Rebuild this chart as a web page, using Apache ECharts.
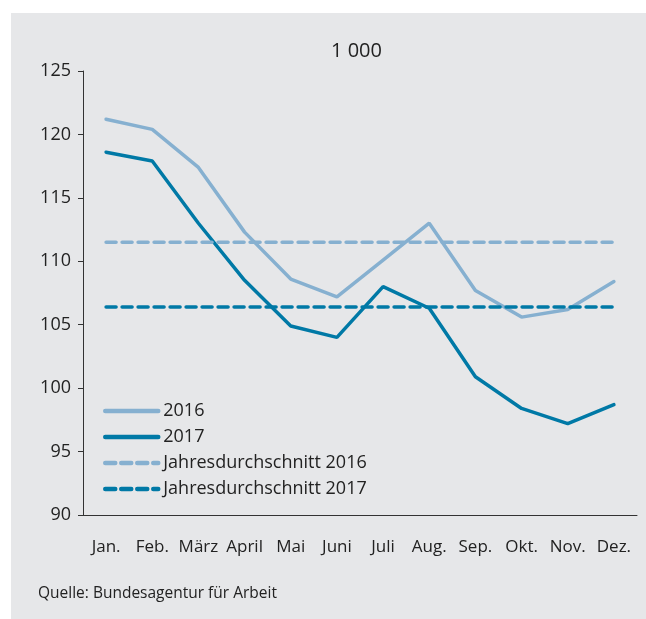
<!doctype html>
<html lang="de">
<head>
<meta charset="utf-8">
<title>Arbeitslose 2016/2017</title>
<script src="https://cdn.jsdelivr.net/npm/echarts@6/dist/echarts.min.js"></script>
<style>
  html, body { margin:0; padding:0; background:#fff; }
  #panel { position:absolute; left:11px; top:13px; width:635px; height:606px; background:#e6e7e9; }
  #chart { position:absolute; left:0; top:0; width:646px; height:619px; }
</style>
</head>
<body>
<div id="panel"></div>
<div id="chart"></div>
<script>
  // Monatswerte in 1 000
  const months = ['Jan.', 'Feb.', 'März', 'April', 'Mai', 'Juni', 'Juli', 'Aug.', 'Sep.', 'Okt.', 'Nov.', 'Dez.'];
  const values2016 = [121.2, 120.4, 117.4, 112.3, 108.6, 107.2, 110.1, 113.0, 107.7, 105.6, 106.2, 108.4];
  const values2017 = [118.6, 117.9, 113.0, 108.5, 104.9, 104.0, 108.0, 106.3, 100.9, 98.4, 97.2, 98.7];
  const avg2016 = [111.5, 111.5, 111.5, 111.5, 111.5, 111.5, 111.5, 111.5, 111.5, 111.5, 111.5, 111.5];
  const avg2017 = [106.4, 106.4, 106.4, 106.4, 106.4, 106.4, 106.4, 106.4, 106.4, 106.4, 106.4, 106.4];

  const light = '#86b0d0';
  const dark  = '#0079a6';
  const font  = '"Open Sans", "Noto Sans", sans-serif';

  const line = (name, data, color, type) => ({
    name, type: 'line', data,
    symbol: 'none',
    lineStyle: { color, width: 3.5, type, cap: 'round' },
    itemStyle: { color },
    emphasis: { disabled: true },
    animation: false
  });

  echarts.init(document.getElementById('chart')).setOption({
    backgroundColor: 'transparent',
    textStyle: { fontFamily: font },
    graphic: [
      { type: 'text', left: 331, top: 41, style: { text: '1 000', font: '20px ' + font, fill: '#222' } },
      { type: 'text', left: 38, top: 586, style: { text: 'Quelle: Bundesagentur für Arbeit', font: '15.5px ' + font, fill: '#222' } }
    ],
    grid: { left: 83, right: 9, top: 71, bottom: 104 },
    legend: {
      orient: 'vertical', left: 98, top: 397,
      itemWidth: 53, itemHeight: 14, itemGap: 8,
      itemStyle: { opacity: 0 },
      lineStyle: { width: 4.5, cap: 'round' },
      textStyle: { fontSize: 18, color: '#222', fontFamily: font },
      data: ['2016', '2017', 'Jahresdurchschnitt 2016', 'Jahresdurchschnitt 2017']
    },
    xAxis: {
      type: 'category', data: months, boundaryGap: true,
      axisLine: { lineStyle: { color: '#333', width: 1 } },
      axisTick: { length: 5, lineStyle: { color: '#333' } },
      axisLabel: { fontSize: 17, color: '#222', margin: 24, interval: 0 }
    },
    yAxis: {
      type: 'value', min: 90, max: 125, interval: 5,
      splitLine: { show: false },
      axisLine: { show: true, lineStyle: { color: '#333', width: 1 } },
      axisTick: { show: true, length: 5, lineStyle: { color: '#333' } },
      axisLabel: { fontSize: 18, color: '#222', margin: 12 }
    },
    series: [
      line('2016', values2016, light, 'solid'),
      line('2017', values2017, dark, 'solid'),
      line('Jahresdurchschnitt 2016', avg2016, light, [10, 6]),
      line('Jahresdurchschnitt 2017', avg2017, dark, [10, 6])
    ]
  });
</script>
</body>
</html>
